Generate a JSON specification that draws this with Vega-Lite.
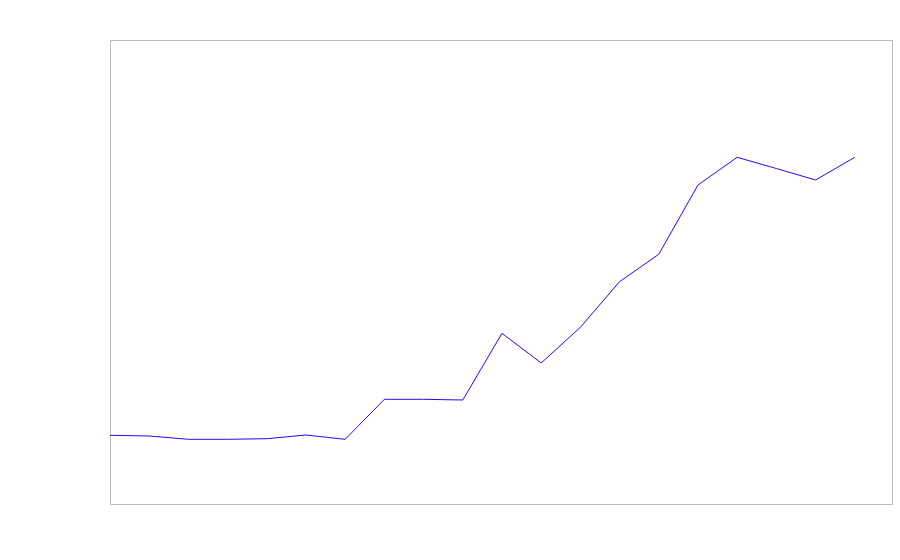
{
  "$schema": "https://vega.github.io/schema/vega-lite/v6.json",
  "autosize": {"type": "none"},
  "width": 782,
  "height": 464,
  "padding": {"left": 110, "top": 40, "right": 8, "bottom": 56},
  "background": "white",
  "config": {"view": {"stroke": "#bbbbbb", "strokeWidth": 1}},
  "data": {"values": [
    {"i": 0, "v": 68.7},
    {"i": 1, "v": 68.0},
    {"i": 2, "v": 64.7},
    {"i": 3, "v": 64.7},
    {"i": 4, "v": 65.3},
    {"i": 5, "v": 69.0},
    {"i": 6, "v": 64.7},
    {"i": 7, "v": 104.7},
    {"i": 8, "v": 104.7},
    {"i": 9, "v": 104.0},
    {"i": 10, "v": 170.7},
    {"i": 11, "v": 141.0},
    {"i": 12, "v": 176.7},
    {"i": 13, "v": 222.3},
    {"i": 14, "v": 249.7},
    {"i": 15, "v": 319.0},
    {"i": 16, "v": 346.7},
    {"i": 17, "v": 335.5},
    {"i": 18, "v": 324.0},
    {"i": 19, "v": 346.7}
  ]},
  "mark": {"type": "line", "color": "#3300ff", "strokeWidth": 1},
  "encoding": {
    "x": {"field": "i", "type": "quantitative", "scale": {"domain": [0, 19.95], "nice": false, "zero": false}, "axis": null},
    "y": {"field": "v", "type": "quantitative", "scale": {"domain": [0, 464], "nice": false}, "axis": null}
  }
}
